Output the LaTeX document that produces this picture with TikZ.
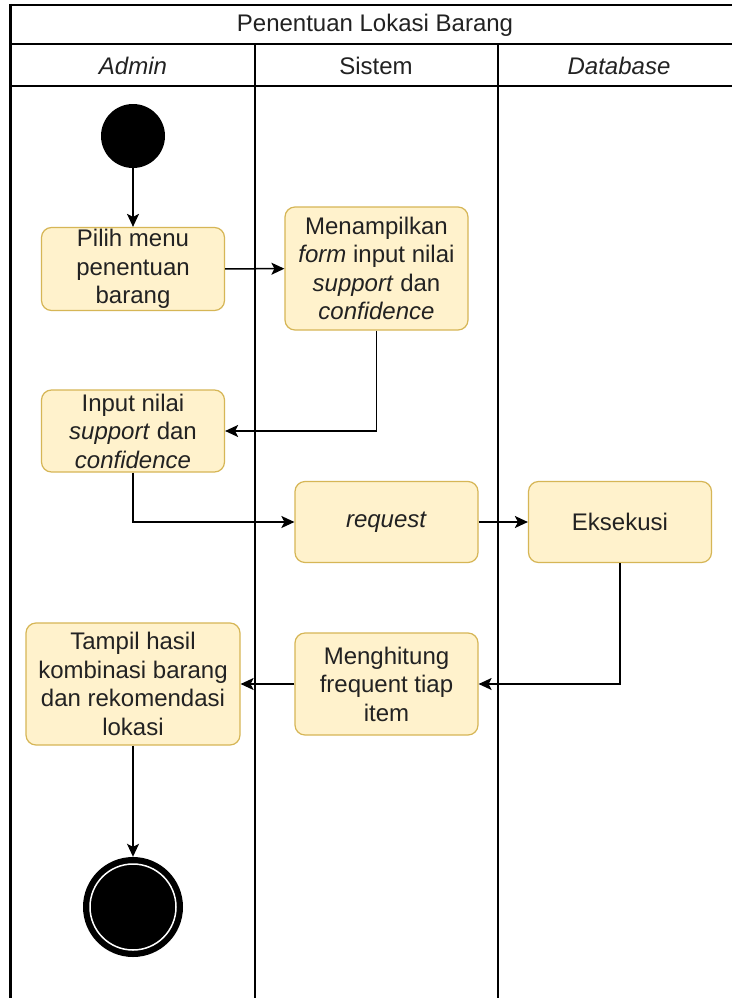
\documentclass[tikz,border=0pt]{standalone}
\usepackage{fontspec}
\setmainfont{Liberation Sans}
\usetikzlibrary{arrows.meta,positioning}
\definecolor{boxfill}{HTML}{FFF2CC}
\definecolor{boxline}{HTML}{D6B656}
\definecolor{txt}{HTML}{222222}
\tikzset{
  act/.style={draw=boxline,fill=boxfill,rounded corners=10pt,line width=1.2pt,
    minimum width=183pt,align=center,text=txt,inner sep=1pt,
    font=\fontsize{24}{28.5}\selectfont},
  conn/.style={line width=1.5pt,-{Stealth[length=13pt,width=12pt,inset=3pt]}},
  lane/.style={line width=1.5pt},
  hdr/.style={font=\fontsize{24}{28}\selectfont,text=txt}
}
\begin{document}
\begin{tikzpicture}[x=1pt,y=-1pt]
\useasboundingbox (0,0) rectangle (731,998);
\fill[white] (0,0) rectangle (731,998);
% pool frame
\draw[lane] (10,5) -- (745,5);
\draw[lane] (10,44) -- (745,44);
\draw[lane] (10,86) -- (745,86);
\draw[line width=3pt] (10,4) -- (10,1005);
\draw[lane] (255,44) -- (255,1005);
\draw[lane] (498,44) -- (498,1005);
\node[hdr] (title) at (375,25) {Penentuan Lokasi Barang};
\node[hdr] (hadmin) at (133,66) {\itshape Admin};
\node[hdr] (hsistem) at (376,66) {Sistem};
\node[hdr] (hdb) at (619,66) {\itshape Database};
% nodes
\node[circle,fill=black,minimum size=64pt,inner sep=0pt] (start) at (133,136) {};
\node[act,minimum height=83pt] (pilih) at (133,269) {Pilih menu\\penentuan\\barang};
\node[act,minimum height=123pt] (tampilkan) at (376.5,268.5) {Menampilkan\\\textit{form} input nilai\\\textit{support} dan\\\textit{confidence}};
\node[act,minimum height=82pt] (input) at (133,431) {Input nilai\\\textit{support} dan\\\textit{confidence}};
\node[act,minimum height=81pt] (request) at (386.5,522) {\textit{request}};
\node[act,minimum height=81pt] (eksekusi) at (620,522) {Eksekusi};
\node[act,minimum height=102pt] (hitung) at (386.5,684) {Menghitung\\frequent tiap\\item};
\node[act,minimum height=122pt,minimum width=214pt] (tampil) at (133,684) {Tampil hasil\\kombinasi barang\\dan rekomendasi\\lokasi};
\node[circle,fill=black,minimum size=100pt,inner sep=0pt] (end) at (133,907) {};
\draw[white,line width=1.5pt] (end.center) circle[radius=43];
% connectors
\draw[conn] (start) -- (pilih);
\draw[conn] (pilih) -- (tampilkan);
\draw[conn] (tampilkan.south) |- (input.east);
\draw[conn] (input.south) |- (request.west);
\draw[conn] (request) -- (eksekusi);
\draw[conn] (eksekusi.south) |- (hitung.east);
\draw[conn] (hitung) -- (tampil);
\draw[conn] (tampil) -- (end);
\end{tikzpicture}
\end{document}
